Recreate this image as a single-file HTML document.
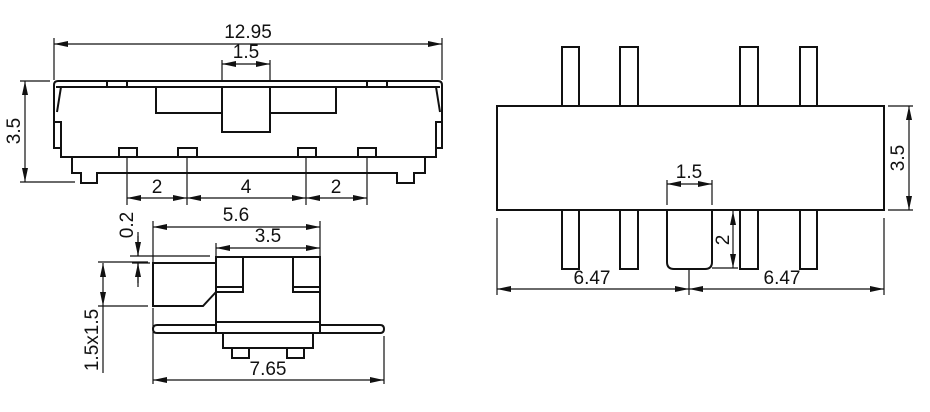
<!DOCTYPE html><html><head><style>body{margin:0;background:#fff}svg{display:block}text{font-family:"Liberation Sans",sans-serif;font-size:19px;fill:#111}</style></head><body>
<svg width="930" height="412" viewBox="0 0 930 412" xmlns="http://www.w3.org/2000/svg">
<defs>
<marker id="e" viewBox="0 0 14 6" refX="14" refY="3" markerWidth="14" markerHeight="6" orient="auto" markerUnits="userSpaceOnUse"><path d="M0,0L14,3L0,6z" fill="#111"/></marker>
</defs>
<g fill="none" stroke="#111" stroke-width="2">
<path d="M58,81H438Q442,81 442,85V148H436V157H61V148H54V85Q54,81 58,81Z"/>
<path d="M56,87H440M61,87L57,112M436,87L440,112M54,122H61V148M442,122H436V148"/>
<path d="M107,81V87M127,81V87M367,81V87M387,81V87"/>
<rect x="156" y="87" width="180" height="26"/><rect x="222" y="87" width="48" height="45" fill="#fff"/>
<rect x="119" y="148" width="18" height="9"/><rect x="178" y="148" width="19" height="9"/><rect x="298" y="148" width="18" height="9"/><rect x="358" y="148" width="18" height="9"/>
<path d="M72,157V173H81V183H97V173H397V183H414V173H425V157"/>
<rect x="216" y="257" width="104" height="65"/><rect x="216" y="322" width="104" height="11"/>
<path d="M216,287H243V292H216M243,257V292M320,287H293V292H320M293,257V292"/>
<path d="M216,263H153V306H203L216,292"/>
<path d="M157,325H216M320,325H380Q384,325 384,329Q384,333 380,333H320M216,333H157Q153,333 153,329Q153,325 157,325"/>
<rect x="223" y="333" width="90" height="15"/><rect x="232" y="348" width="17" height="10"/><rect x="287" y="348" width="17" height="10"/>
<rect x="497" y="106" width="387" height="104"/>
<rect x="562" y="47" width="17" height="59"/><rect x="620" y="47" width="18" height="59"/><rect x="740" y="47" width="18" height="59"/><rect x="800" y="47" width="17" height="59"/>
<rect x="562" y="210" width="17" height="59"/><rect x="620" y="210" width="18" height="59"/><rect x="740" y="210" width="18" height="59"/><rect x="800" y="210" width="17" height="59"/>
<path d="M667,210V262Q667,269 674,269H705Q712,269 712,262V210"/>
</g>
<g fill="none" stroke="#111" stroke-width="1.2">
<path d="M54,38V80M442,38V80M222,60V81M270,60V81M20,81H50M20,182H75M127,157V205M187,157V205M306,157V205M367,157V205"/>
<path d="M153,221V262M320,221V256M216,243V256M153,308V384M384,336V384M130,256H210M132,263H150M98,262H148M98,306H148"/>
<path d="M103,306V373M138,232V256M138,263V287"/>
<path d="M667,180V205M712,180V205M712,268H738M689,269V295M497,218V295M884,218V295M888,106H913M888,210H913"/>
</g>
<g fill="none" stroke="#111" stroke-width="1.2" marker-end="url(#e)">
<path d="M248,44H54"/><path d="M248,44H442"/>
<path d="M246,64H222"/><path d="M246,64H270"/>
<path d="M25,131V81"/><path d="M25,131V182"/>
<path d="M157,198H127"/><path d="M157,198H187"/>
<path d="M246,198H187"/><path d="M246,198H306"/>
<path d="M336,198H306"/><path d="M336,198H367"/>
<path d="M236,227H153"/><path d="M236,227H320"/>
<path d="M268,248H216"/><path d="M268,248H320"/>
<path d="M268,380H153"/><path d="M268,380H384"/>
<path d="M103,285V263"/><path d="M103,285V306"/>
<path d="M138,236V256"/><path d="M138,283V263"/>
<path d="M689,184H667"/><path d="M689,184H712"/>
<path d="M733,240V211"/><path d="M733,240V268"/>
<path d="M593,289H497"/><path d="M593,289H689"/>
<path d="M786,289H689"/><path d="M786,289H884"/>
<path d="M909,158V106"/><path d="M909,158V210"/>
</g>
<g text-anchor="middle">
<text x="248" y="38">12.95</text><text x="246" y="58">1.5</text>
<text x="157" y="193">2</text><text x="246" y="193">4</text><text x="336" y="193">2</text>
<text transform="translate(20,131) rotate(-90)">3.5</text>
<text x="236" y="221">5.6</text><text x="268" y="242">3.5</text><text x="268" y="375">7.65</text>
<text transform="translate(133,225) rotate(-90)">0.2</text>
<text transform="translate(98,340) rotate(-90)">1.5x1.5</text>
<text x="689" y="178">1.5</text><text transform="translate(729,240) rotate(-90)">2</text>
<text x="592" y="284">6.47</text><text x="782" y="284">6.47</text>
<text transform="translate(904,158) rotate(-90)">3.5</text>
</g>
</svg></body></html>
